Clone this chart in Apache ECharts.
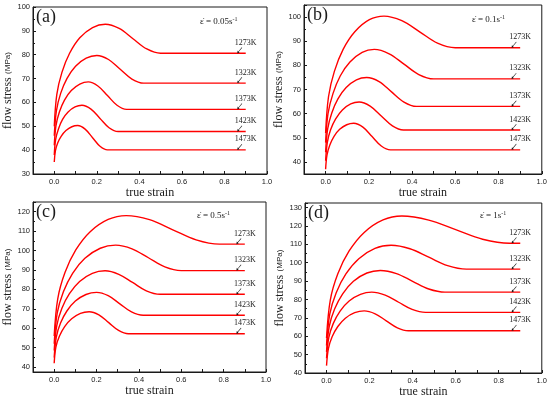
<!DOCTYPE html>
<html><head><meta charset="utf-8">
<script src="https://cdn.jsdelivr.net/npm/echarts@6/dist/echarts.min.js"></script>
<style>html,body{margin:0;padding:0;background:#fff}#c{width:550px;height:399px}</style>
</head><body><div id="c"></div>
<script>
// temperature labels
const temps = ['1273K','1323K','1373K','1423K','1473K'];
const panelLetters = ['(a)','(b)','(c)','(d)'];
const rates = ['0.05','0.1','0.5','1'];

// (a) strain rate 0.05 s^-1   [true strain, flow stress MPa]
const a1273 = [[0,50],[0.012,63.4],[0.036,72.6],[0.072,80.6],[0.12,87.1],[0.18,91.4],[0.24,92.8],[0.305,91.0],[0.37,86.7],[0.435,82.4],[0.5,80.6],[0.9,80.6]];
const a1323 = [[0,46],[0.01,56.5],[0.03,63.8],[0.06,70.1],[0.1,75.2],[0.15,78.6],[0.2,79.7],[0.255,78.0],[0.31,73.9],[0.365,69.8],[0.42,68.1],[0.9,68.1]];
const a1373 = [[0,42],[0.008,50.3],[0.024,56.0],[0.048,61.0],[0.08,65.0],[0.12,67.7],[0.16,68.6],[0.205,66.9],[0.25,62.9],[0.295,58.8],[0.34,57.1],[0.9,57.1]];
const a1423 = [[0,38],[0.0065,44.5],[0.02,49.0],[0.039,52.9],[0.065,56.0],[0.0975,58.1],[0.13,58.8],[0.1725,57.2],[0.215,53.3],[0.2575,49.4],[0.3,47.8],[0.9,47.8]];
const a1473 = [[0,35],[0.0055,39.8],[0.0165,43.1],[0.033,45.9],[0.055,48.2],[0.0825,49.8],[0.11,50.3],[0.145,48.8],[0.18,45.2],[0.215,41.6],[0.25,40.1],[0.9,40.1]];

// (b) strain rate 0.1 s^-1
const b1273 = [[0,52],[0.0135,67.1],[0.0405,77.5],[0.081,86.6],[0.135,93.9],[0.2025,98.9],[0.27,100.4],[0.3525,98.5],[0.435,93.9],[0.5175,89.2],[0.6,87.3],[0.9,87.3]];
const b1323 = [[0,48],[0.011,60.0],[0.034,68.3],[0.0675,75.6],[0.1125,81.4],[0.169,85.4],[0.225,86.6],[0.294,84.8],[0.3625,80.5],[0.431,76.2],[0.5,74.4],[0.9,74.4]];
const b1373 = [[0,44],[0.0095,53.7],[0.0285,60.3],[0.057,66.1],[0.095,70.8],[0.1425,74.0],[0.19,75.0],[0.2475,73.3],[0.305,69.0],[0.3625,64.8],[0.42,63.0],[0.9,63.0]];
const b1423 = [[0,40.5],[0.008,48.1],[0.023,53.3],[0.0465,57.8],[0.0775,61.5],[0.116,64.0],[0.155,64.8],[0.206,63.1],[0.2575,59.0],[0.309,54.9],[0.36,53.2],[0.9,53.2]];
const b1473 = [[0,37],[0.0065,42.9],[0.0195,47.0],[0.039,50.6],[0.065,53.5],[0.0975,55.4],[0.13,56.0],[0.1725,54.4],[0.215,50.5],[0.2575,46.6],[0.3,45.0],[0.9,45.0]];

// (c) strain rate 0.5 s^-1
const c1273 = [[0,56],[0.017,75.3],[0.051,88.7],[0.102,100.3],[0.17,109.7],[0.255,116.0],[0.34,118.0],[0.45,115.9],[0.56,110.7],[0.67,105.5],[0.78,103.3],[0.9,103.3]];
const c1323 = [[0,52],[0.0145,67.9],[0.0435,78.8],[0.087,88.3],[0.145,96.0],[0.2175,101.2],[0.29,102.8],[0.3675,100.9],[0.445,96.3],[0.5225,91.6],[0.6,89.7],[0.9,89.7]];
const c1373 = [[0,48.5],[0.012,61.3],[0.036,70.2],[0.072,77.8],[0.12,84.1],[0.18,88.3],[0.24,89.6],[0.305,87.8],[0.37,83.6],[0.435,79.3],[0.5,77.5],[0.9,77.5]];
const c1423 = [[0,45],[0.01,55.5],[0.03,62.7],[0.06,68.9],[0.1,74.0],[0.15,77.4],[0.2,78.5],[0.255,76.8],[0.31,72.6],[0.365,68.4],[0.42,66.7],[0.9,66.7]];
const c1473 = [[0,42],[0.008,50.3],[0.025,56.0],[0.0495,60.9],[0.0825,64.9],[0.124,67.7],[0.165,68.5],[0.211,66.9],[0.2575,62.9],[0.304,58.9],[0.35,57.2],[0.9,57.2]];

// (d) strain rate 1 s^-1
const d1273 = [[0,59],[0.0175,79.7],[0.0525,94.0],[0.105,106.4],[0.175,116.5],[0.2625,123.3],[0.35,125.4],[0.475,123.2],[0.6,118.0],[0.725,112.8],[0.85,110.6],[0.9,110.6]];
const d1323 = [[0,55],[0.015,72.0],[0.045,83.7],[0.09,93.9],[0.15,102.2],[0.225,107.8],[0.3,109.5],[0.3875,107.6],[0.475,103.0],[0.5625,98.4],[0.65,96.5],[0.9,96.5]];
const d1373 = [[0,51.5],[0.0125,65.3],[0.0375,74.8],[0.075,83.1],[0.125,89.9],[0.1875,94.4],[0.25,95.8],[0.325,94.1],[0.4,89.9],[0.475,85.7],[0.55,84.0],[0.9,84.0]];
const d1423 = [[0,48],[0.0105,59.2],[0.0315,67.0],[0.063,73.7],[0.105,79.2],[0.1575,82.8],[0.21,84.0],[0.2725,82.4],[0.335,78.5],[0.3975,74.6],[0.46,73.0],[0.9,73.0]];
const d1473 = [[0,44],[0.00875,53.3],[0.026,59.7],[0.0525,65.3],[0.0875,69.8],[0.131,72.8],[0.175,73.8],[0.226,72.2],[0.2775,68.4],[0.329,64.6],[0.38,63.0],[0.9,63.0]];

// y axis ranges per panel
const yMins = [30, 35, 37.5, 40];
const yMaxs = [100, 105, 125, 132.5];
const ySplits = [7, 7, 9, 9];

const curves = [
  [a1273,a1323,a1373,a1423,a1473],
  [b1273,b1323,b1373,b1423,b1473],
  [c1273,c1323,c1373,c1423,c1473],
  [d1273,d1323,d1373,d1423,d1473]
];

const gridBoxes = [
  {left:33, top:7, width:234, height:167},
  {left:304, top:5, width:241, height:169},
  {left:33, top:202, width:233, height:170},
  {left:305, top:203, width:239, height:170}
];

const ink = '#1a1a1a';
const serif = 'Liberation Serif';
const sans = 'Liberation Sans';
const arrow = 'path://M10,0 L10.9,0.9 L3.3,8.3 L5,10 L0,11 L1,6 L2.5,7.6 Z';

const option = {
  backgroundColor:'#fff',
  animation:false,
  grid: gridBoxes.map(g => Object.assign({show:true, borderColor:ink, borderWidth:1, containLabel:false}, g)),
  xAxis: gridBoxes.map((g,i) => ({
    gridIndex:i, type:'value', min:-0.1, max:1.0, interval:0.1,
    axisLine:{show:true, onZero:false, lineStyle:{color:ink, width:1}},
    axisTick:{show:true, inside:true, length:3, lineStyle:{color:ink}},
    axisLabel:{margin:4, fontSize:7.5, color:ink, fontFamily:sans, showMinLabel:true, showMaxLabel:true,
      formatter: v => { const k = Math.round(v*10); return (k>=0 && k%2===0) ? (k/10).toFixed(1) : ''; }},
    splitLine:{show:false},
    name:'true strain', nameLocation:'middle', nameGap:13,
    nameTextStyle:{fontFamily:serif, fontSize:12, color:ink}
  })),
  yAxis: gridBoxes.map((g,i) => ({
    gridIndex:i, type:'value', min:yMins[i], max:yMaxs[i], splitNumber:ySplits[i],
    axisLine:{show:true, onZero:false, lineStyle:{color:ink, width:1}},
    axisTick:{show:true, inside:true, length:3, lineStyle:{color:ink}},
    minorTick:{show:true, splitNumber:2, length:2, lineStyle:{color:ink}},
    axisLabel:{margin:3, fontSize:7.5, color:ink, fontFamily:sans,
      formatter: v => (Math.abs(v % 10) < 1e-6 ? String(v) : '')},
    splitLine:{show:false}, minorSplitLine:{show:false},
    name:'{a|flow stress} {b|(MPa)}', nameLocation:'middle', nameGap:18,
    nameTextStyle:{rich:{
      a:{fontFamily:serif, fontSize:12, color:ink},
      b:{fontFamily:sans, fontSize:8, color:ink}
    }}
  })),
  series: [],
  graphic: []
};

curves.forEach((set, i) => {
  set.forEach((arr, j) => {
    option.series.push({
      type:'line', xAxisIndex:i, yAxisIndex:i, data:arr,
      smooth:0.35, symbol:'none', showSymbol:false, silent:true,
      lineStyle:{color:'#ff0000', width:1.4},
      markPoint:{
        silent:true, animation:false,
        data:[{
          coord:[0.86, arr[arr.length-1][1]],
          symbol:arrow, symbolSize:[5,6], symbolOffset:[2.5,-3],
          itemStyle:{color:ink},
          label:{show:true, formatter:temps[j], position:'inside', offset:[6,-7.5],
            fontFamily:serif, fontSize:8, color:ink}
        }]
      }
    });
  });
  const g = gridBoxes[i];
  option.graphic.push({
    type:'text', left:g.left + 3, top:g.top + 1,
    style:{text:panelLetters[i], font:'18px "Liberation Serif"', fill:ink}
  });
});

const rateBoxes = [{x:200,y:16},{x:472,y:14},{x:197,y:210},{x:480,y:210}];
rateBoxes.forEach((p, i) => {
  option.graphic.push({
    type:'text', x:p.x, y:p.y,
    style:{
      text:'{e|\u03b5\u0307 = ' + rates[i] + 's}{s|-1}',
      rich:{
        e:{fontFamily:serif, fontSize:9, fill:ink, lineHeight:11},
        s:{fontFamily:serif, fontSize:6, fill:ink, lineHeight:7, verticalAlign:'top'}
      }
    }
  });
});

const chart = echarts.init(document.getElementById('c'), null, {renderer:'canvas'});
chart.setOption(option);
</script>
</body></html>
